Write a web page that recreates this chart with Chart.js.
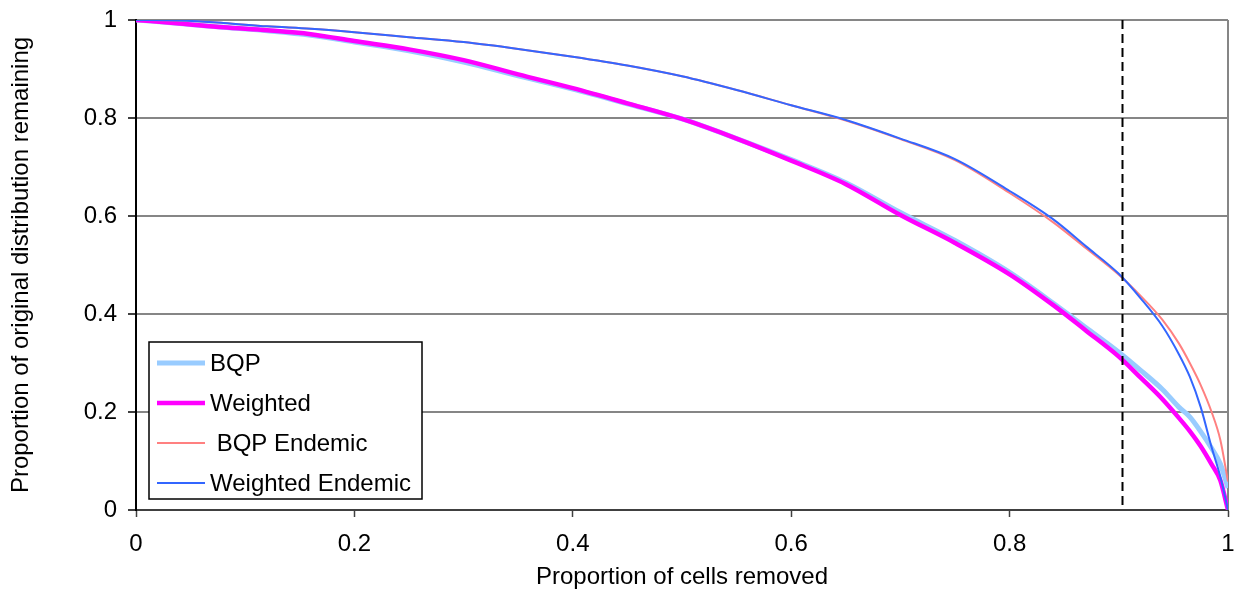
<!DOCTYPE html>
<html>
<head>
<meta charset="utf-8">
<title>Proportion of original distribution remaining</title>
<script src="https://cdn.jsdelivr.net/npm/chart.js@4.4.0/dist/chart.umd.min.js"></script>
<style>
  html, body { margin: 0; padding: 0; background: #fff; }
  #wrap { width: 1240px; height: 592px; }
</style>
</head>
<body>
<div id="wrap"><canvas id="chart" width="1240" height="592"></canvas></div>
<script>
'use strict';

// ---- data ----
const cellsRemoved = [0, 0.04, 0.08, 0.12, 0.16, 0.2, 0.25, 0.3, 0.35, 0.4, 0.45, 0.5, 0.55, 0.6, 0.65,
  0.7, 0.75, 0.8, 0.84, 0.87, 0.9, 0.92, 0.94, 0.955, 0.965, 0.975, 0.985, 0.993, 1];

const bqp = [1, 0.993, 0.985, 0.978, 0.969, 0.955, 0.937, 0.914, 0.886, 0.859, 0.829, 0.798, 0.758, 0.715, 0.668,
  0.607, 0.55, 0.485, 0.422, 0.372, 0.322, 0.285, 0.246, 0.21, 0.19, 0.16, 0.126, 0.094, 0.045];

const weighted = [1, 0.993, 0.985, 0.979, 0.971, 0.957, 0.94, 0.918, 0.889, 0.861, 0.83, 0.798, 0.758, 0.713, 0.665,
  0.602, 0.545, 0.481, 0.418, 0.366, 0.313, 0.27, 0.226, 0.188, 0.161, 0.13, 0.093, 0.06, 0];

const bqpEndemic = [1, 0.999, 0.994, 0.987, 0.982, 0.975, 0.965, 0.955, 0.941, 0.925, 0.907, 0.885, 0.857, 0.826, 0.795,
  0.757, 0.714, 0.647, 0.587, 0.534, 0.48, 0.437, 0.388, 0.34, 0.3, 0.255, 0.2, 0.143, 0.058];

const weightedEndemic = [1, 0.999, 0.994, 0.987, 0.982, 0.975, 0.965, 0.955, 0.941, 0.925, 0.907, 0.885, 0.857, 0.826, 0.796,
  0.758, 0.716, 0.651, 0.593, 0.538, 0.482, 0.432, 0.375, 0.318, 0.272, 0.21, 0.128, 0.068, 0];

const seriesLabels = ['BQP', 'Weighted', ' BQP Endemic', 'Weighted Endemic'];
const axisTicks = [0, 0.2, 0.4, 0.6, 0.8, 1];
const cutoff = 0.903;

const COLORS = {
  bqp: '#99ccff',
  weighted: '#ff00ff',
  bqpEndemic: '#ff8080',
  weightedEndemic: '#3366ff',
  grid: '#868686',
  axis: '#000000',
  text: '#000000',
};

const FONT = '"Liberation Sans", Arial, sans-serif';

function toPoints(ys) {
  return cellsRemoved.map((x, i) => ({ x, y: ys[i] }));
}

// "1" rather than "1.0", like the original axes
function tickLabel(v) {
  return String(Number(v.toFixed(1)));
}

// plot border on the right, dashed cut-off line and the boxed legend
const extrasPlugin = {
  id: 'extras',
  beforeDatasetsDraw(chart) {
    const { ctx, chartArea } = chart;
    ctx.save();
    ctx.strokeStyle = COLORS.grid;
    ctx.lineWidth = 2;
    ctx.beginPath();
    ctx.moveTo(chartArea.right, chartArea.top);
    ctx.lineTo(chartArea.right, chartArea.bottom);
    ctx.stroke();
    ctx.restore();
  },
  afterDatasetsDraw(chart) {
    const { ctx, chartArea, scales } = chart;
    const x = Math.round(scales.x.getPixelForValue(cutoff)) + 0.5;
    ctx.save();
    ctx.strokeStyle = '#000';
    ctx.lineWidth = 2;
    ctx.setLineDash([9, 5]);
    ctx.beginPath();
    ctx.moveTo(x, chartArea.top);
    ctx.lineTo(x, chartArea.bottom);
    ctx.stroke();
    ctx.restore();
  },
  afterDraw(chart) {
    const { ctx, chartArea } = chart;
    const box = { x: chartArea.left + 13, y: chartArea.bottom - 168, w: 273, h: 157 };
    ctx.save();
    ctx.fillStyle = '#fff';
    ctx.fillRect(box.x, box.y, box.w, box.h);
    ctx.strokeStyle = '#000';
    ctx.lineWidth = 1.5;
    ctx.strokeRect(box.x, box.y, box.w, box.h);

    ctx.font = '24px ' + FONT;
    ctx.textBaseline = 'middle';
    ctx.textAlign = 'left';
    chart.data.datasets.forEach((ds, i) => {
      const rowY = box.y + 21 + i * 40;
      ctx.strokeStyle = ds.borderColor;
      ctx.lineWidth = ds.borderWidth;
      ctx.beginPath();
      ctx.moveTo(box.x + 8, rowY);
      ctx.lineTo(box.x + 56, rowY);
      ctx.stroke();
      ctx.fillStyle = COLORS.text;
      ctx.fillText(ds.label, box.x + 61, rowY + 1);
    });
    ctx.restore();
  },
};

function renderChart() {
  const canvas = document.getElementById('chart');

  const datasets = [
    { label: seriesLabels[0], data: toPoints(bqp), borderColor: COLORS.bqp, borderWidth: 5, order: 4 },
    { label: seriesLabels[1], data: toPoints(weighted), borderColor: COLORS.weighted, borderWidth: 4.5, order: 3 },
    { label: seriesLabels[2], data: toPoints(bqpEndemic), borderColor: COLORS.bqpEndemic, borderWidth: 2, order: 2 },
    { label: seriesLabels[3], data: toPoints(weightedEndemic), borderColor: COLORS.weightedEndemic, borderWidth: 2, order: 1 },
  ].map(ds => Object.assign(ds, {
    pointRadius: 0,
    fill: false,
    tension: 0,
    cubicInterpolationMode: 'monotone',
    borderJoinStyle: 'round',
  }));

  return new Chart(canvas, {
    type: 'line',
    data: { datasets },
    plugins: [extrasPlugin],
    options: {
      responsive: false,
      devicePixelRatio: 1,
      animation: false,
      layout: { padding: { top: 20, right: 12, bottom: 0, left: 0 } },
      plugins: {
        legend: { display: false },
        tooltip: { enabled: false },
      },
      scales: {
        x: {
          type: 'linear',
          min: 0,
          max: 1,
          afterBuildTicks: s => { s.ticks = axisTicks.map(v => ({ value: v })); },
          afterFit: s => { s.height = 82; s.paddingLeft = 0; s.paddingRight = 0; },
          grid: { drawOnChartArea: false, drawTicks: true, tickLength: 7, tickColor: '#404040', tickWidth: 1.5 },
          border: { display: true, color: '#404040', width: 2 },
          ticks: { color: COLORS.text, padding: 13, maxRotation: 0, callback: tickLabel, font: { family: FONT, size: 24 } },
          title: {
            display: true,
            text: 'Proportion of cells removed',
            color: COLORS.text,
            padding: { top: 0, bottom: 0 },
            font: { family: FONT, size: 24 },
          },
        },
        y: {
          type: 'linear',
          min: 0,
          max: 1,
          afterBuildTicks: s => { s.ticks = axisTicks.map(v => ({ value: v })); },
          afterFit: s => { s.width = 136; s.paddingTop = 0; s.paddingBottom = 0; },
          grid: { color: COLORS.grid, lineWidth: 2, tickLength: 8, tickColor: '#000', tickWidth: 1.5 },
          border: { display: true, color: COLORS.axis, width: 2 },
          ticks: { color: COLORS.text, padding: 11, callback: tickLabel, font: { family: FONT, size: 24 } },
          title: {
            display: true,
            text: 'Proportion of original distribution remaining',
            color: COLORS.text,
            padding: { top: 7, bottom: 0 },
            font: { family: FONT, size: 24 },
          },
        },
      },
    },
  });
}

renderChart();
</script>
</body>
</html>
